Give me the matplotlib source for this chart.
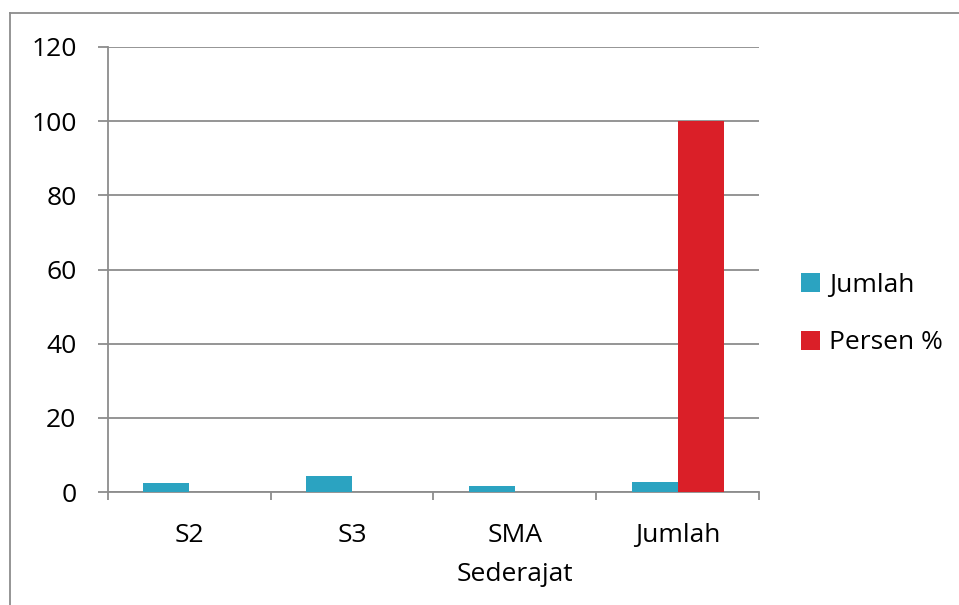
import matplotlib
matplotlib.use("Agg")
import matplotlib.pyplot as plt
from matplotlib.lines import Line2D
import numpy as np

plt.rcParams['font.family'] = ['Open Sans', 'DejaVu Sans']

categories = ["S2", "S3", "SMA\nSederajat", "Jumlah"]
jumlah = [2.35, 4.3, 1.7, 2.7]
persen = [0, 0, 0, 100]
series_names = ["Jumlah", "Persen %"]
y_ticks = [0, 20, 40, 60, 80, 100, 120]

teal = "#2BA3C1"
red = "#DA1F28"
grey = "#8C8C8C"
fs = 19

W, H = 959, 605
fig = plt.figure(figsize=(W / 100, H / 100), dpi=100)

# outer chart frame (top and left edges)
fig.add_artist(Line2D([10 / W, 1.0], [1 - 13 / H, 1 - 13 / H], color=grey, lw=1.3,
                      transform=fig.transFigure))
fig.add_artist(Line2D([10 / W, 10 / W], [1 - 13 / H, 0.0], color=grey, lw=1.3,
                      transform=fig.transFigure))

left, right, top, bottom = 108, 759, 47, 492
ax = fig.add_axes([left / W, 1 - bottom / H, (right - left) / W, (bottom - top) / H])

x = np.arange(len(categories))
bw = 0.283
b1 = ax.bar(x - bw, jumlah, width=bw, align='edge', color=teal, zorder=3, label=series_names[0])
b2 = ax.bar(x, persen, width=bw, align='edge', color=red, zorder=3, label=series_names[1])

ax.set_xlim(-0.5, len(categories) - 0.5)
ax.set_ylim(0, 120)
ax.set_yticks(y_ticks)
ax.set_yticklabels([str(v) for v in y_ticks], fontsize=fs)
ax.yaxis.grid(True, color=grey, lw=1.3, zorder=0)
ax.tick_params(axis='y', direction='out', length=7.2, width=1.3, color=grey, pad=15.5)

ax.set_xticks(x)
ax.set_xticklabels(categories, fontsize=fs, linespacing=1.75)
ax.set_xticks(np.arange(-0.5, len(categories)), minor=True)
ax.tick_params(axis='x', which='major', length=0, pad=22)
ax.tick_params(axis='x', which='minor', direction='out', length=6, width=1.3, color=grey)

for s in ['top', 'right']:
    ax.spines[s].set_visible(False)
for s in ['left', 'bottom']:
    ax.spines[s].set_color(grey)
    ax.spines[s].set_linewidth(1.3)

fig.legend(handles=[b1, b2], labels=series_names, loc='center left',
           bbox_to_anchor=(801 / W, 1 - 314 / H), frameon=False, fontsize=fs,
           handlelength=0.72, handleheight=0.72, handletextpad=0.35,
           labelspacing=1.25, borderpad=0, borderaxespad=0)

fig.savefig("out.png", dpi=100, facecolor="white")
